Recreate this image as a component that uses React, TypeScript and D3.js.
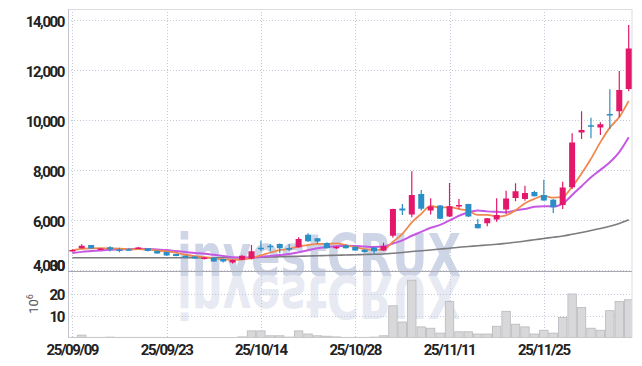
import React from "react";
import * as d3 from "d3";

// trading days shown on the chart (yy/mm/dd)
const dates = [
  "25/09/09", "25/09/10", "25/09/11", "25/09/12", "25/09/15", "25/09/16", "25/09/17", "25/09/18", "25/09/19", "25/09/22",
  "25/09/23", "25/09/24", "25/09/25", "25/09/26", "25/09/29", "25/09/30", "25/10/01", "25/10/02", "25/10/10", "25/10/13",
  "25/10/14", "25/10/15", "25/10/16", "25/10/17", "25/10/20", "25/10/21", "25/10/22", "25/10/23", "25/10/24", "25/10/27",
  "25/10/28", "25/10/29", "25/10/30", "25/10/31", "25/11/03", "25/11/04", "25/11/05", "25/11/06", "25/11/07", "25/11/10",
  "25/11/11", "25/11/12", "25/11/13", "25/11/14", "25/11/17", "25/11/18", "25/11/19", "25/11/20", "25/11/21", "25/11/24",
  "25/11/25", "25/11/26", "25/11/27", "25/11/28", "25/12/01", "25/12/02", "25/12/03", "25/12/04", "25/12/05", "25/12/08",
];

const opens = [
  4760, 4870, 5000, 4820, 4910, 4820, 4830, 4870, 4870, 4770,
  4720, 4640, 4570, 4540, 4440, 4500, 4440, 4300, 4410, 4450,
  4890, 4970, 5040, 4880, 4910, 5410, 5270, 5080, 4870, 4990,
  4930, 4810, 4900, 4780, 5370, 6460, 6220, 7040, 6380, 6580,
  6140, 6560, 6640, 5840, 5870, 6020, 6420, 6880, 6840, 7120,
  7000, 6810, 6600, 7310, 9500, 9790, 9700, 10240, 10350, 11240,
];
const highs = [
  4830, 5030, 5000, 4870, 4950, 4890, 4870, 4920, 4880, 4780,
  4730, 4650, 4580, 4550, 4520, 4510, 4450, 4420, 4590, 5000,
  5170, 5040, 5060, 5040, 5310, 5470, 5280, 5110, 4950, 5020,
  4940, 4830, 4920, 5090, 6450, 6640, 7950, 7200, 6870, 6600,
  7480, 6840, 6650, 6040, 6080, 6870, 7170, 7470, 7370, 7170,
  7610, 6840, 7530, 9470, 10350, 10090, 9910, 11230, 11960, 13800,
];
const lows = [
  4740, 4860, 4850, 4810, 4740, 4710, 4790, 4860, 4740, 4650,
  4570, 4550, 4470, 4450, 4420, 4330, 4300, 4260, 4390, 4420,
  4750, 4750, 4670, 4760, 4890, 5120, 5050, 4860, 4840, 4860,
  4770, 4700, 4650, 4760, 5290, 6200, 6110, 6380, 6220, 6040,
  6120, 6440, 6120, 5660, 5750, 5930, 6240, 6750, 6770, 6940,
  6770, 6280, 6440, 7240, 9240, 9270, 9400, 9640, 10110, 11150,
];
const closes = [
  4800, 4970, 4860, 4860, 4820, 4770, 4810, 4900, 4760, 4660,
  4580, 4560, 4490, 4460, 4500, 4340, 4340, 4400, 4570, 4750,
  4870, 4910, 4870, 4810, 5240, 5150, 5140, 4870, 4930, 4870,
  4780, 4720, 4740, 4960, 6440, 6380, 7000, 6450, 6540, 6050,
  6550, 6600, 6140, 5670, 6070, 6200, 6860, 7150, 7080, 6950,
  6780, 6510, 7300, 9100, 9600, 9740, 9830, 10210, 11200, 12860,
];
// volume, millions of shares
const volumes = [
  0.3, 1.3, 0.3, 0.3, 0.4, 0.3, 0.3, 0.3, 0.3, 0.3,
  0.2, 0.2, 0.1, 0.1, 0.1, 0.1, 0.1, 0.2, 0.5, 3.2,
  3.2, 1.0, 1.0, 0.4, 3.2, 1.8, 1.0, 0.8, 0.5, 0.3,
  0.3, 0.3, 0.4, 1.0, 14.5, 7.2, 26.0, 5.0, 4.4, 2.2,
  16.4, 2.8, 2.8, 1.8, 1.8, 5.3, 12.0, 6.2, 5.0, 1.8,
  3.5, 2.2, 9.2, 19.8, 13.7, 4.4, 3.5, 12.3, 16.4, 17.2,
];

// moving averages as drawn
const ma5 = [
  4790, 4844, 4864, 4872, 4862, 4856, 4824, 4832, 4812, 4780,
  4742, 4692, 4610, 4550, 4518, 4470, 4426, 4408, 4430, 4480,
  4586, 4700, 4794, 4842, 4940, 4996, 5042, 5042, 5066, 4992,
  4918, 4834, 4808, 4814, 5128, 5448, 5904, 6246, 6562, 6484,
  6518, 6438, 6376, 6202, 6206, 6136, 6188, 6390, 6672, 6848,
  6964, 6894, 6924, 7328, 7858, 8450, 9114, 9696, 10116, 10768,
];
const ma10 = [
  4680, 4725, 4756, 4784, 4806, 4823, 4834, 4848, 4842, 4821,
  4799, 4758, 4721, 4681, 4649, 4606, 4559, 4509, 4490, 4499,
  4528, 4563, 4601, 4636, 4710, 4791, 4871, 4918, 4954, 4966,
  4957, 4938, 4925, 4940, 5060, 5183, 5369, 5527, 5688, 5806,
  5983, 6171, 6311, 6382, 6345, 6327, 6313, 6383, 6437, 6527,
  6550, 6541, 6657, 7000, 7353, 7707, 8004, 8307, 8719, 9310,
];
const ma60 = [
  4490, 4490, 4490, 4490, 4490, 4490, 4490, 4490, 4490, 4490,
  4490, 4490, 4490, 4490, 4490, 4490, 4490, 4490, 4500, 4500,
  4510, 4520, 4530, 4540, 4550, 4560, 4570, 4580, 4590, 4600,
  4610, 4620, 4630, 4640, 4670, 4700, 4740, 4770, 4800, 4840,
  4870, 4910, 4940, 4970, 5000, 5030, 5070, 5110, 5160, 5210,
  5260, 5310, 5360, 5430, 5500, 5580, 5660, 5750, 5860, 6010,
];

const priceTicks = [4000, 6000, 8000, 10000, 12000, 14000];
const volumeTicks = [10, 20, 30];
const labelEvery = 10;

const upColor = "#e3186b";
const downColor = "#2a8fc7";
const gridColor = "#c3c9da";
const tickFont = "Roboto, 'DejaVu Sans', sans-serif";

export default function App() {
  const width = 642;
  const height = 366;
  const left = 68;
  const right = 632;
  const top = 9;
  const split = 271.5;
  const bottom = 337.5;

  const x = d3.scaleLinear().domain([-0.456, dates.length - 0.65]).range([left, right]);
  const yPrice = d3.scaleLinear().domain([4000, 14000]).range([270, 20]);
  const yVol = d3.scaleLinear().domain([0, 30]).range([338, 271.3]);
  const step = x(1) - x(0);

  const maLine = d3.line<number>()
    .x((_, i) => x(i))
    .y(d => yPrice(d))
    .curve(d3.curveMonotoneX);

  const labelIdx = d3.range(0, dates.length, labelEvery);

  return (
    <svg width={width} height={height} style={{ position: "absolute", left: 0, top: 0, background: "#fff" }}>
      <defs>
        <clipPath id="priceClip">
          <rect x={left} y={top} width={right - left} height={split - top} />
        </clipPath>
        <clipPath id="volClip">
          <rect x={left} y={split} width={right - left} height={bottom - split} />
        </clipPath>
      </defs>

      {/* watermark */}
      <g fontFamily="'DejaVu Sans', sans-serif" fontWeight="bold" fontSize={58}>
        <text x={177} y={276} fill="#ced5e6" textLength={284} lengthAdjust="spacingAndGlyphs">investCRUX</text>
        <g transform="translate(0,552) scale(1,-1)">
          <text x={177} y={276} fill="#e7eaf2" textLength={284} lengthAdjust="spacingAndGlyphs">investCRUX</text>
        </g>
      </g>

      {/* grid */}
      <g stroke={gridColor} strokeWidth={1} strokeDasharray="1 2">
        {priceTicks.map(t => (
          <line key={"p" + t} x1={left} x2={right} y1={Math.round(yPrice(t)) + 0.5} y2={Math.round(yPrice(t)) + 0.5} />
        ))}
        {volumeTicks.slice(0, 2).map(t => (
          <line key={"v" + t} x1={left} x2={right} y1={Math.round(yVol(t)) + 0.5} y2={Math.round(yVol(t)) + 0.5} />
        ))}
        {labelIdx.map(i => (
          <line key={"x" + i} x1={Math.round(x(i)) + 0.5} x2={Math.round(x(i)) + 0.5} y1={top} y2={bottom} />
        ))}
      </g>

      {/* volume */}
      <g clipPath="url(#volClip)">
        {volumes.map((v, i) => (
          <rect key={i} x={x(i) - step / 2 + 0.5} y={yVol(v)} width={step - 1}
            height={Math.max(0, yVol(0) - yVol(v))} fill="#d8d8da" stroke="#b9b9bc" strokeWidth={0.8} />
        ))}
      </g>

      {/* frame */}
      <g fill="none">
        <line x1={left} x2={right} y1={top + 0.5} y2={top + 0.5} stroke="#dcdce2" />
        <line x1={right} x2={right} y1={top} y2={bottom} stroke="#dcdce2" />
        <line x1={left + 0.5} x2={left + 0.5} y1={top} y2={bottom} stroke="#c4c4cc" />
        <line x1={left} x2={right} y1={bottom} y2={bottom} stroke="#c8c8cc" />
        <line x1={left} x2={right} y1={split} y2={split} stroke="#a8a8ae" />
      </g>

      {/* moving averages */}
      <g clipPath="url(#priceClip)" fill="none">
        <path d={maLine(ma60) || ""} stroke="#7c7c80" strokeWidth={1.6} />
        <path d={maLine(ma10) || ""} stroke="#c659e3" strokeWidth={2} />
        <path d={maLine(ma5) || ""} stroke="#f0894f" strokeWidth={1.8} />
      </g>

      {/* candles */}
      <g clipPath="url(#priceClip)">
        {closes.map((c, i) => {
          const o = opens[i];
          const col = c >= o ? upColor : downColor;
          const cx = x(i);
          const yTop = yPrice(Math.max(o, c));
          const yBot = yPrice(Math.min(o, c));
          return (
            <g key={i}>
              <line x1={cx} x2={cx} y1={yPrice(highs[i])} y2={yPrice(lows[i])} stroke={col} strokeWidth={1.2} />
              <rect x={cx - 3} y={yTop} width={6} height={Math.max(1.5, yBot - yTop)} fill={col} />
            </g>
          );
        })}
      </g>

      {/* price axis labels */}
      <g fontFamily={tickFont} fontSize={15} fontWeight={700} fill="#222" textAnchor="end" letterSpacing={-1.4}>
        {priceTicks.map(t => (
          <text key={t} x={64} y={t === 4000 ? 270.5 : yPrice(t) + 7}>{d3.format(",")(t)}</text>
        ))}
        {volumeTicks.map(t => (
          <text key={"v" + t} x={64} y={t === 30 ? 270.5 : yVol(t) + 6}>{t}</text>
        ))}
      </g>

      {/* volume unit */}
      <text transform="translate(38,304) rotate(-90)" textAnchor="middle" fontFamily={tickFont}
        fontSize={13} fill="#555">
        10<tspan dy={-5} fontSize={9}>6</tspan>
      </text>

      {/* date labels */}
      <g fontFamily={tickFont} fontSize={15} fontWeight={700} fill="#222" textAnchor="middle" letterSpacing={-1.4}>
        {labelIdx.map(i => (
          <text key={i} x={x(i)} y={355}>{dates[i]}</text>
        ))}
      </g>
    </svg>
  );
}
